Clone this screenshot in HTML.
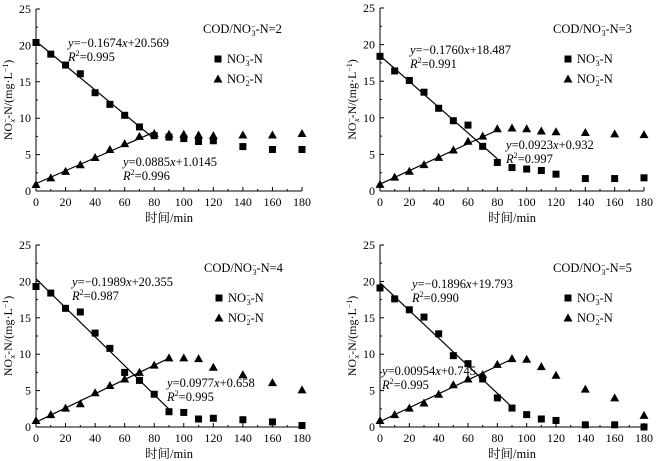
<!DOCTYPE html>
<html><head><meta charset="utf-8"><style>
body{margin:0;background:#fff}
svg{display:block}
svg text{font-family:"Liberation Serif","Noto Serif CJK SC",serif;}
</style></head><body>
<svg id="c" width="661" height="461" font-family="Liberation Serif, Noto Serif CJK SC, serif"></svg>
<script>
const times=[0,10,20,30,40,50,60,70,80,90,100,110,120,140,160,180];
const xTicks=[0,20,40,60,80,100,120,140,160,180];
const yTicks=[0,5,10,15,20,25];
const no3_r2=[20.4,18.8,17.3,16.1,13.5,11.9,10.4,8.8,7.6,7.4,7.2,6.8,6.9,6.1,5.7,5.7];
const no2_r2=[0.9,1.8,2.7,3.6,4.6,5.7,6.5,7.5,7.9,7.8,7.8,7.7,7.6,7.7,7.7,7.9];
const no3_r3=[18.4,16.4,15.1,13.5,11.3,9.6,9.0,6.1,3.9,3.2,3.0,2.8,2.3,1.7,1.7,1.8];
const no2_r3=[0.9,1.9,2.7,3.6,4.6,5.6,6.8,7.5,8.5,8.6,8.5,8.2,8.1,8.0,7.8,7.7];
const no3_r4=[19.3,18.4,16.3,15.8,12.9,10.8,7.5,6.4,4.5,2.1,2.0,1.1,1.2,1.0,0.7,0.2];
const no2_r4=[0.9,1.7,2.6,3.2,4.7,5.7,6.6,7.5,8.5,9.5,9.5,9.4,8.2,7.2,6.1,5.1];
const no3_r5=[19.1,17.6,16.1,15.1,12.8,9.8,8.7,6.6,4.0,2.6,1.7,1.1,0.9,0.3,0.3,0.0];
const no2_r5=[0.9,1.7,2.6,3.3,4.5,5.8,6.6,7.2,8.6,9.4,9.3,8.3,7.1,5.2,4.0,1.6];
const fits=[[-0.1674,20.569,0.0885,1.0145,80],[-0.1760,18.487,0.0923,0.932,80],[-0.1989,20.355,0.0977,0.658,90],[-0.1896,19.793,0.0954,0.745,90]];
const ratios=["2","3","4","5"];
const eq1=[["−0.1674","20.569","0.995"],["−0.1760","18.487","0.991"],["−0.1989","20.355","0.987"],["−0.1896","19.793","0.990"]];
const eq2=[["0.0885","1.0145","0.996"],["0.0923","0.932","0.997"],["0.0977","0.658","0.995"],["0.00954","0.745","0.995"]];

const NS="http://www.w3.org/2000/svg";
const svg=document.getElementById('c');
function mk(t,a,p,txt){const e=document.createElementNS(NS,t);for(const k in a)e.setAttribute(k,a[k]);if(txt!==undefined)e.innerHTML=txt;(p||svg).appendChild(e);return e;}

const panels=[
 {x0:36,x1:302,y0:191,y1:9,no3:no3_r2,no2:no2_r2,leg:[203,29],e1:[68,43],e2:[123,162]},
 {x0:380,x1:644,y0:191,y1:8,no3:no3_r3,no2:no2_r3,leg:[553,29],e1:[410,50],e2:[506,145]},
 {x0:36,x1:302,y0:427,y1:245,no3:no3_r4,no2:no2_r4,leg:[204,268],e1:[72,282],e2:[167,383]},
 {x0:380,x1:644,y0:427,y1:245,no3:no3_r5,no2:no2_r5,leg:[553,268],e1:[412,284],e2:[382,371]}
];
panels.forEach((P,i)=>{
 const g=mk('g',{});
 
 
 const X=v=>P.x0+(P.x1-P.x0)*v/180, Y=v=>P.y0+(P.y1-P.y0)*v/25;
 mk('line',{x1:P.x0,y1:P.y0,x2:P.x1,y2:P.y0,stroke:'#000','stroke-width':1},g);
 mk('line',{x1:P.x0,y1:P.y0,x2:P.x0,y2:P.y1,stroke:'#000','stroke-width':1},g);
 for(let v=0;v<=180;v+=10){mk('line',{x1:X(v),y1:P.y0,x2:X(v),y2:P.y0-(v%20?2:4),stroke:'#000'},g);}
 for(let v=0;v<=25;v+=2.5){mk('line',{x1:P.x0,y1:Y(v),x2:P.x0+(v%5?2:4),y2:Y(v),stroke:'#000'},g);}
 xTicks.forEach(v=>{const t=mk('text',{x:X(v),y:P.y0+15,'font-size':12,'text-anchor':'middle'},g,v);});
 yTicks.forEach(v=>{const t=mk('text',{x:P.x0-5,y:Y(v)+4,'font-size':12,'text-anchor':'end'},g,v);});
 const xt=mk('text',{x:(P.x0+P.x1)/2,y:P.y0+31,'font-size':12.5,'text-anchor':'middle'},g,'时间/min');
 
 const cy=(P.y0+P.y1)/2;
 const yt=mk('text',{x:0,y:0,'font-size':12,'text-anchor':'middle',transform:`translate(${P.x0-24},${cy}) rotate(-90)`},g,'NO<tspan font-size="8" dy="-4">−</tspan><tspan font-size="8" dy="7" dx="-4" font-style="italic">x</tspan><tspan dy="-3">-N/(mg·L</tspan><tspan font-size="8" dy="-4">−1</tspan><tspan dy="4">)</tspan>');
 
 const f=fits[i];
 const l1=mk('line',{x1:X(0),y1:Y(f[1]),x2:X(f[4]),y2:Y(f[0]*f[4]+f[1]),stroke:'#000','stroke-width':1.2},g);
 
 const l2=mk('line',{x1:X(0),y1:Y(f[3]),x2:X(f[4]),y2:Y(f[2]*f[4]+f[3]),stroke:'#000','stroke-width':1.2},g);
 
 times.forEach((t,j)=>{
  const r=mk('rect',{x:X(t)-3.5,y:Y(P.no3[j])-3.5,width:7,height:7,fill:'#000'},g);
  
  const cx=X(t),yy=Y(P.no2[j]);
  const p=mk('polygon',{points:`${cx},${yy-4.5} ${cx+4.5},${yy+3.5} ${cx-4.5},${yy+3.5}`,fill:'#000'},g);
  
 });
 const [lx,ly]=P.leg;
 const lt=mk('text',{x:lx,y:ly+4,'font-size':12.5},g,'COD/NO<tspan font-size="8" dy="-4">−</tspan><tspan font-size="8" dy="7" dx="-4">3</tspan><tspan dy="-3">-N='+ratios[i]+'</tspan>');
 
 const sqx=lx+15;
 mk('rect',{x:sqx-3.5,y:ly+26.5,width:7,height:7,fill:'#000'},g);
 const le1=mk('text',{x:sqx+9,y:ly+34,'font-size':12.5},g,'NO<tspan font-size="8" dy="-4">−</tspan><tspan font-size="8" dy="7" dx="-4">3</tspan><tspan dy="-3">-N</tspan>');
 
 mk('polygon',{points:`${sqx},${ly+45.5} ${sqx+4.5},${ly+53.5} ${sqx-4.5},${ly+53.5}`,fill:'#000'},g);
 const le2=mk('text',{x:sqx+9,y:ly+54,'font-size':12.5},g,'NO<tspan font-size="8" dy="-4">−</tspan><tspan font-size="8" dy="7" dx="-4">2</tspan><tspan dy="-3">-N</tspan>');
 
 const a=eq1[i],b=eq2[i];
 const t1=mk('text',{x:P.e1[0],y:P.e1[1]+4,'font-size':12.5},g,`<tspan font-style="italic">y</tspan>=${a[0]}<tspan font-style="italic">x</tspan>+${a[1]}`);
 
 const r1=mk('text',{x:P.e1[0],y:P.e1[1]+18,'font-size':12.5},g,`<tspan font-style="italic">R</tspan><tspan font-size="8" dy="-5">2</tspan><tspan dy="5">=${a[2]}</tspan>`);
 
 const t2=mk('text',{x:P.e2[0],y:P.e2[1]+4,'font-size':12.5},g,`<tspan font-style="italic">y</tspan>=${b[0]}<tspan font-style="italic">x</tspan>+${b[1]}`);
 
 const r2=mk('text',{x:P.e2[0],y:P.e2[1]+18,'font-size':12.5},g,`<tspan font-style="italic">R</tspan><tspan font-size="8" dy="-5">2</tspan><tspan dy="5">=${b[2]}</tspan>`);
 
});
</script>
</body></html>
